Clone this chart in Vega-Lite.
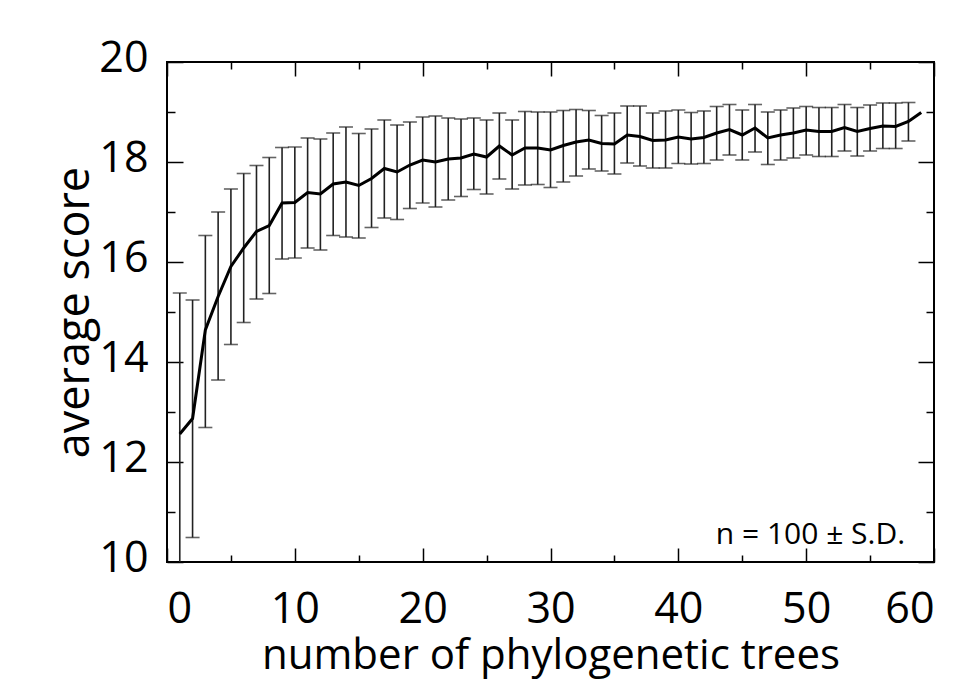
{
  "$schema": "https://vega.github.io/schema/vega-lite/v6.json",
  "width": 767,
  "height": 500,
  "autosize": {"type": "none"},
  "padding": {"left": 167, "top": 62, "right": 26, "bottom": 120},
  "background": "white",
  "config": {
    "view": {"stroke": "black", "strokeWidth": 2},
    "axis": {
      "domain": false,
      "grid": false,
      "labelFont": "Open Sans",
      "labelFontSize": 43,
      "labelColor": "black",
      "tickColor": "black",
      "tickWidth": 1.5,
      "titleFont": "Open Sans",
      "titleFontSize": 45,
      "titleFontWeight": "normal",
      "titleColor": "black"
    }
  },
  "data": {
    "values": [
      {"x": 1, "y": 12.56, "lo": 9.74, "hi": 15.38},
      {"x": 2, "y": 12.87, "lo": 10.49, "hi": 15.24},
      {"x": 3, "y": 14.64, "lo": 12.69, "hi": 16.53},
      {"x": 4, "y": 15.31, "lo": 13.64, "hi": 17.0},
      {"x": 5, "y": 15.91, "lo": 14.35, "hi": 17.46},
      {"x": 6, "y": 16.28, "lo": 14.79, "hi": 17.77},
      {"x": 7, "y": 16.61, "lo": 15.26, "hi": 17.93},
      {"x": 8, "y": 16.73, "lo": 15.37, "hi": 18.09},
      {"x": 9, "y": 17.18, "lo": 16.06, "hi": 18.29},
      {"x": 10, "y": 17.19, "lo": 16.08, "hi": 18.3},
      {"x": 11, "y": 17.39, "lo": 16.28, "hi": 18.48},
      {"x": 12, "y": 17.36, "lo": 16.24, "hi": 18.46},
      {"x": 13, "y": 17.56, "lo": 16.53, "hi": 18.58},
      {"x": 14, "y": 17.6, "lo": 16.5, "hi": 18.7},
      {"x": 15, "y": 17.53, "lo": 16.48, "hi": 18.57},
      {"x": 16, "y": 17.67, "lo": 16.69, "hi": 18.66},
      {"x": 17, "y": 17.87, "lo": 16.88, "hi": 18.84},
      {"x": 18, "y": 17.8, "lo": 16.85, "hi": 18.74},
      {"x": 19, "y": 17.94, "lo": 17.07, "hi": 18.8},
      {"x": 20, "y": 18.04, "lo": 17.18, "hi": 18.9},
      {"x": 21, "y": 18.0, "lo": 17.1, "hi": 18.92},
      {"x": 22, "y": 18.06, "lo": 17.24, "hi": 18.88},
      {"x": 23, "y": 18.08, "lo": 17.31, "hi": 18.86},
      {"x": 24, "y": 18.16, "lo": 17.45, "hi": 18.88},
      {"x": 25, "y": 18.1, "lo": 17.36, "hi": 18.84},
      {"x": 26, "y": 18.32, "lo": 17.66, "hi": 18.98},
      {"x": 27, "y": 18.14, "lo": 17.46, "hi": 18.84},
      {"x": 28, "y": 18.28, "lo": 17.54, "hi": 19.01},
      {"x": 29, "y": 18.28, "lo": 17.55, "hi": 19.0},
      {"x": 30, "y": 18.24, "lo": 17.49, "hi": 19.0},
      {"x": 31, "y": 18.33, "lo": 17.6, "hi": 19.03},
      {"x": 32, "y": 18.4, "lo": 17.72, "hi": 19.05},
      {"x": 33, "y": 18.44, "lo": 17.86, "hi": 19.03},
      {"x": 34, "y": 18.37, "lo": 17.82, "hi": 18.93},
      {"x": 35, "y": 18.36, "lo": 17.76, "hi": 18.98},
      {"x": 36, "y": 18.54, "lo": 17.98, "hi": 19.12},
      {"x": 37, "y": 18.51, "lo": 17.92, "hi": 19.12},
      {"x": 38, "y": 18.43, "lo": 17.88, "hi": 18.98},
      {"x": 39, "y": 18.44, "lo": 17.88, "hi": 19.02},
      {"x": 40, "y": 18.5, "lo": 17.97, "hi": 19.04},
      {"x": 41, "y": 18.46, "lo": 17.96, "hi": 18.99},
      {"x": 42, "y": 18.49, "lo": 17.97, "hi": 19.02},
      {"x": 43, "y": 18.58, "lo": 18.04, "hi": 19.11},
      {"x": 44, "y": 18.65, "lo": 18.14, "hi": 19.15},
      {"x": 45, "y": 18.54, "lo": 18.04, "hi": 19.04},
      {"x": 46, "y": 18.68, "lo": 18.2, "hi": 19.15},
      {"x": 47, "y": 18.48, "lo": 17.95, "hi": 19.0},
      {"x": 48, "y": 18.54, "lo": 18.04, "hi": 19.04},
      {"x": 49, "y": 18.58, "lo": 18.08, "hi": 19.08},
      {"x": 50, "y": 18.64, "lo": 18.14, "hi": 19.11},
      {"x": 51, "y": 18.61, "lo": 18.11, "hi": 19.09},
      {"x": 52, "y": 18.61, "lo": 18.11, "hi": 19.09},
      {"x": 53, "y": 18.69, "lo": 18.22, "hi": 19.15},
      {"x": 54, "y": 18.61, "lo": 18.12, "hi": 19.09},
      {"x": 55, "y": 18.67, "lo": 18.22, "hi": 19.14},
      {"x": 56, "y": 18.72, "lo": 18.27, "hi": 19.18},
      {"x": 57, "y": 18.71, "lo": 18.27, "hi": 19.18},
      {"x": 58, "y": 18.81, "lo": 18.42, "hi": 19.19},
      {"x": 59, "y": 18.99, "lo": null, "hi": null}
    ]
  },
  "resolve": {"axis": {"x": "independent", "y": "independent"}},
  "layer": [
    {
      "mark": {"type": "rule", "color": "#222222", "strokeWidth": 1.6, "clip": true},
      "encoding": {
        "x": {"field": "x", "type": "quantitative",
          "scale": {"domain": [0, 60], "nice": false, "zero": false},
          "axis": {"orient": "bottom", "values": [0, 10, 20, 30, 40, 50, 60], "tickSize": -14, "labelPadding": 40, "labelOverlap": false, "title": "number of phylogenetic trees", "titleFontSize": 42, "titlePadding": 4}},
        "y": {"field": "lo", "type": "quantitative",
          "scale": {"domain": [10, 20], "nice": false, "zero": false},
          "axis": {"orient": "left", "values": [10, 12, 14, 16, 18, 20], "tickSize": -16, "labelPadding": 35, "labelOffset": -4, "labelOverlap": false, "title": "average score", "titlePadding": 1}},
        "y2": {"field": "hi"}
      }
    },
    {
      "mark": {"type": "tick", "orient": "horizontal", "color": "#222222", "thickness": 1.6, "size": 14, "clip": true},
      "encoding": {
        "x": {"field": "x", "type": "quantitative",
          "scale": {"domain": [0, 60], "nice": false, "zero": false},
          "axis": {"orient": "bottom", "values": [5, 15, 25, 35, 45, 55], "tickSize": -7, "labels": false, "title": null}},
        "y": {"field": "lo", "type": "quantitative",
          "scale": {"domain": [10, 20], "nice": false, "zero": false},
          "axis": {"orient": "left", "values": [11, 13, 15, 17, 19], "tickSize": -8, "labels": false, "title": null}}
      }
    },
    {
      "mark": {"type": "tick", "orient": "horizontal", "color": "#222222", "thickness": 1.6, "size": 14, "clip": true},
      "encoding": {
        "x": {"field": "x", "type": "quantitative",
          "scale": {"domain": [0, 60], "nice": false, "zero": false},
          "axis": {"orient": "top", "values": [0, 10, 20, 30, 40, 50, 60], "tickSize": -14, "labels": false, "title": null}},
        "y": {"field": "hi", "type": "quantitative",
          "scale": {"domain": [10, 20], "nice": false, "zero": false},
          "axis": {"orient": "right", "values": [10, 12, 14, 16, 18, 20], "tickSize": -16, "labels": false, "title": null}}
      }
    },
    {
      "mark": {"type": "line", "color": "black", "strokeWidth": 3, "clip": true},
      "encoding": {
        "x": {"field": "x", "type": "quantitative",
          "scale": {"domain": [0, 60], "nice": false, "zero": false},
          "axis": {"orient": "top", "values": [5, 15, 25, 35, 45, 55], "tickSize": -7, "labels": false, "title": null}},
        "y": {"field": "y", "type": "quantitative",
          "scale": {"domain": [10, 20], "nice": false, "zero": false},
          "axis": {"orient": "right", "values": [11, 13, 15, 17, 19], "tickSize": -8, "labels": false, "title": null}}
      }
    },
    {
      "data": {"values": [{"x": 57.74, "y": 10.54, "label": "n = 100 ± S.D."}]},
      "mark": {"type": "text", "align": "right", "baseline": "middle", "font": "Open Sans", "fontSize": 30, "color": "black"},
      "encoding": {
        "x": {"field": "x", "type": "quantitative", "scale": {"domain": [0, 60], "nice": false, "zero": false}, "axis": null},
        "y": {"field": "y", "type": "quantitative", "scale": {"domain": [10, 20], "nice": false, "zero": false}, "axis": null},
        "text": {"field": "label"}
      }
    }
  ]
}
